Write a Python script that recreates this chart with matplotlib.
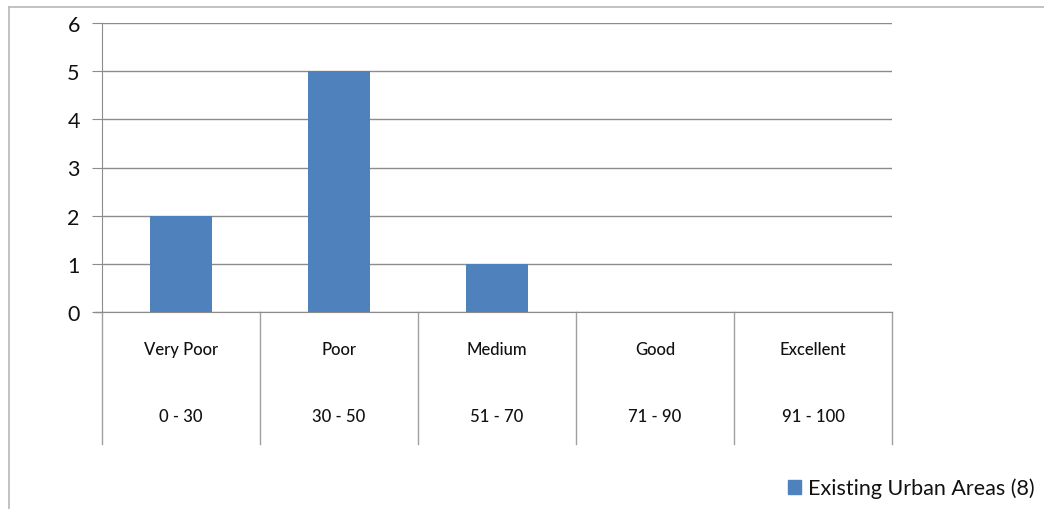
import matplotlib
matplotlib.use("Agg")
import matplotlib.pyplot as plt
from matplotlib.lines import Line2D
from matplotlib.patches import Patch

# data
categories = ["Very Poor", "Poor", "Medium", "Good", "Excellent"]
ranges = ["0 - 30", "30 - 50", "51 - 70", "71 - 90", "91 - 100"]
counts = [2, 5, 1, 0, 0]
series_name = "Existing Urban Areas (8)"

BAR_COLOR = "#4F81BD"
GRID_COLOR = "#8C8C8C"
TEXT_COLOR = "#111111"
plt.rcParams["font.family"] = ["Lato", "DejaVu Sans"]

fig = plt.figure(figsize=(10.44, 5.10), dpi=100)
ax = fig.add_axes([102 / 1044, 1 - 313 / 510, 790 / 1044, 289 / 510])

xs = range(len(categories))
ax.bar(xs, counts, width=0.39, color=BAR_COLOR, zorder=3)

ax.set_xlim(-0.5, len(categories) - 0.5)
ax.set_ylim(0, 6)
ax.set_yticks(range(0, 7))
ax.yaxis.grid(True, color=GRID_COLOR, linewidth=1.0, zorder=0)
ax.tick_params(axis="y", labelsize=15.5, length=7, color=GRID_COLOR, pad=9,
               labelcolor=TEXT_COLOR)
ax.tick_params(axis="x", bottom=False, labelbottom=False)
for side in ["top", "right"]:
    ax.spines[side].set_visible(False)
ax.spines["left"].set_color(GRID_COLOR)
ax.spines["bottom"].set_color(GRID_COLOR)

# baseline extends a bit left like the tick marks
ax.plot([-0.545, -0.5], [0, 0], color=GRID_COLOR, lw=1.0, clip_on=False)

# category table below axis
depth = -132 / 289
trans = ax.get_xaxis_transform()
for i in range(len(categories) + 1):
    ax.plot([i - 0.5, i - 0.5], [0, depth], color="#A0A0A0", lw=1.0,
            transform=trans, clip_on=False)
for i, (c, r) in enumerate(zip(categories, ranges)):
    ax.text(i, -37 / 289, c, transform=trans, ha="center", va="center",
            fontsize=12, fontweight="medium", color=TEXT_COLOR)
    ax.text(i, -104 / 289, r, transform=trans, ha="center", va="center",
            fontsize=12, fontweight="medium", color=TEXT_COLOR)

# outer chart frame (top and left edges)
fig.add_artist(Line2D([9 / 1044, 1], [1 - 8 / 510] * 2, color="#B8B8B8", lw=1.2))
fig.add_artist(Line2D([9 / 1044] * 2, [0, 1 - 8 / 510], color="#B8B8B8", lw=1.2))

fig.legend(handles=[Patch(color=BAR_COLOR, label=series_name)],
           loc="center right", bbox_to_anchor=(1.0, 1 - 489 / 510),
           frameon=False, fontsize=15.5, handlelength=0.6, handleheight=0.6,
           handletextpad=0.3, borderaxespad=0.05,
           labelcolor=TEXT_COLOR)

fig.savefig("out.png", dpi=100)
